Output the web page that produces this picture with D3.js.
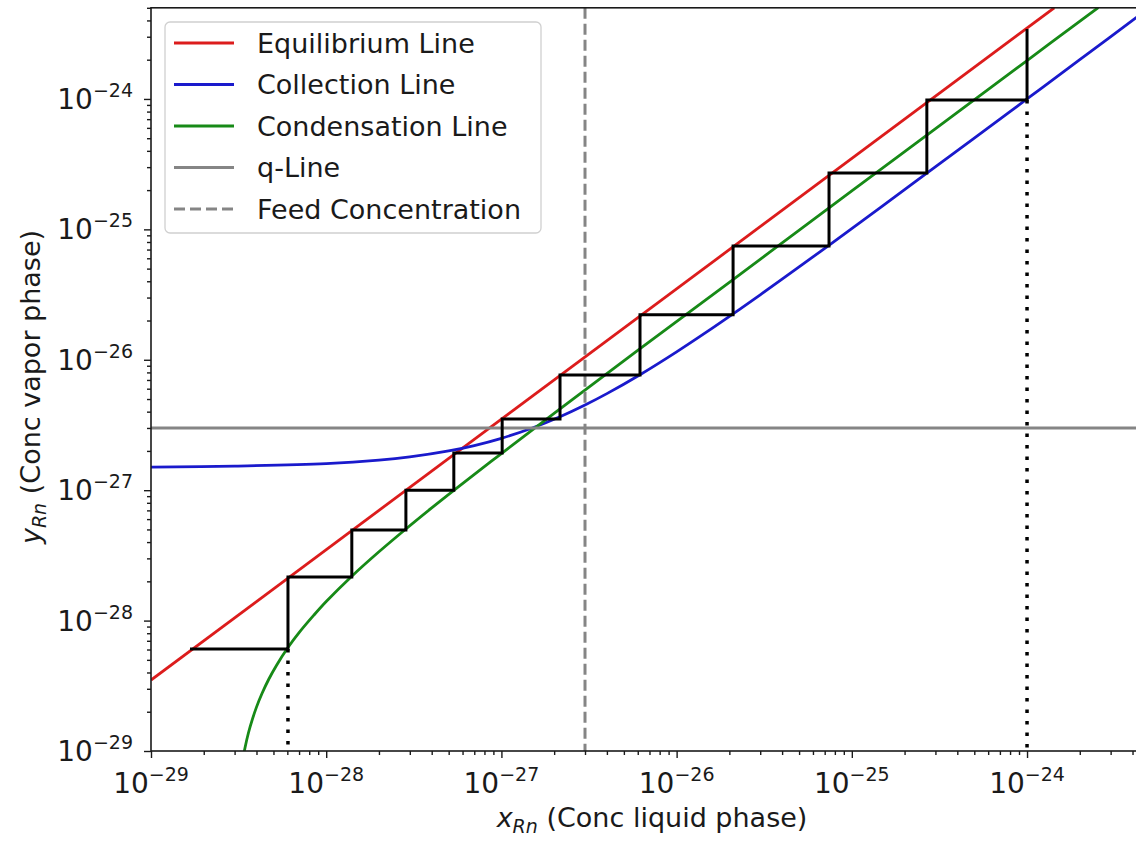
<!DOCTYPE html>
<html>
<head>
<meta charset="utf-8">
<script src="https://cdn.jsdelivr.net/npm/d3@7/dist/d3.min.js"></script>
<style>
  body { margin: 0; background: #fff; }
  text { font-family: "DejaVu Sans", sans-serif; fill: #1a1a1a; }
</style>
</head>
<body>
<div id="chart"></div>
<script>
/*---------- DATA ----------*/
// Equilibrium line (straight on log-log)
let eqX = [1e-29, 1.43e-24];
let eqY = [3.5e-29, 5e-24];

// Collection line
let collX = [1e-29, 3e-29, 1e-28, 2e-28, 3e-28, 5e-28, 7e-28, 1e-27, 1.5e-27, 2.16e-27, 3e-27, 4e-27, 6.18e-27, 1e-26, 1.5e-26, 2.1e-26, 3e-26, 5e-26, 7.4e-26, 1.5e-25, 2.68e-25, 5e-25, 1e-24, 2e-24, 5e-24];
let collY = [1.5e-27, 1.53e-27, 1.6e-27, 1.7e-27, 1.8e-27, 2.0e-27, 2.2e-27, 2.5e-27, 3.0e-27, 3.66e-27, 4.5e-27, 5.5e-27, 7.68e-27, 1.15e-26, 1.65e-26, 2.25e-26, 3.15e-26, 5.15e-26, 7.55e-26, 1.515e-25, 2.695e-25, 5.0e-25, 1.0e-24, 2.0e-24, 5.0e-24];

// Condensation line
let condX = [3.3e-29, 3.44e-29, 3.6e-29, 3.8e-29, 4e-29, 4.3e-29, 4.7e-29, 5.2e-29, 6.05e-29, 7e-29, 8.5e-29, 1e-28, 1.4e-28, 2e-28, 2.85e-28, 4e-28, 5.35e-28, 1e-27, 2.16e-27, 6e-27, 2e-26, 1e-25, 1e-24, 2.55e-24];
let condY = [7.9e-30, 1.06e-29, 1.38e-29, 1.77e-29, 2.17e-29, 2.76e-29, 3.55e-29, 4.53e-29, 6.21e-29, 8.08e-29, 1.10e-28, 1.40e-28, 2.19e-28, 3.37e-28, 5.04e-28, 7.31e-28, 9.97e-28, 1.91e-27, 4.20e-27, 1.18e-26, 3.93e-26, 1.97e-25, 1.97e-24, 5.02e-24];

// q-line and feed concentration
let qLineY = 3e-27;
let feedX = 3e-27;

// Stage steps: vertical at stageX[i] between stageY[i] and stageY[i+1]
let stageX = [1e-24, 2.68e-25, 7.41e-26, 2.10e-26, 6.18e-27, 2.16e-27, 1.01e-27, 5.35e-28, 2.85e-28, 1.40e-28, 6.05e-29, 1.67e-29];
let stageY = [3.44e-24, 9.8e-25, 2.71e-25, 7.47e-26, 2.21e-26, 7.63e-27, 3.52e-27, 1.93e-27, 1.0e-27, 4.96e-28, 2.16e-28, 6.05e-29];

// Dotted drop lines (x, top y)
let dropX = [6.05e-29, 1e-24];
let dropY = [6.05e-29, 9.8e-25];

// Axis ticks
let majorExp = [-29, -28, -27, -26, -25, -24];
let legendLabels = ["Equilibrium Line", "Collection Line", "Condensation Line", "q-Line", "Feed Concentration"];

/*---------- SETUP ----------*/
const width = 1136;
const height = 841;
const mLeft = 151, mRight = 1149.5, mTop = 7.8, mBottom = 751;

let svg = d3.select("#chart").append("svg")
  .attr("width", width)
  .attr("height", height)
  .style("display", "block");

svg.append("rect").attr("width", width).attr("height", height).attr("fill", "#fff");

let x = d3.scaleLog().domain([1e-29, 5e-24]).range([mLeft, mRight]);
let y = d3.scaleLog().domain([1e-29, 5e-24]).range([mBottom, mTop]);

svg.append("defs").append("clipPath").attr("id", "plot-clip")
  .append("rect")
  .attr("x", mLeft).attr("y", mTop)
  .attr("width", mRight - mLeft).attr("height", mBottom - mTop);

let plot = svg.append("g").attr("clip-path", "url(#plot-clip)");

let line = d3.line()
  .x((d) => x(d[0]))
  .y((d) => y(d[1]));

let smooth = d3.line()
  .x((d) => x(d[0]))
  .y((d) => y(d[1]))
  .curve(d3.curveCatmullRom.alpha(0.5));

let red = "#dc1c1c", blue = "#1a1acc", green = "#178a17", gray = "#858585";

// Equilibrium
plot.append("path")
  .datum(d3.zip(eqX, eqY))
  .attr("d", line)
  .attr("fill", "none").attr("stroke", red).attr("stroke-width", 2.8);

// Collection
plot.append("path")
  .datum(d3.zip(collX, collY))
  .attr("d", smooth)
  .attr("fill", "none").attr("stroke", blue).attr("stroke-width", 2.8);

// Condensation
plot.append("path")
  .datum(d3.zip(condX, condY))
  .attr("d", smooth)
  .attr("fill", "none").attr("stroke", green).attr("stroke-width", 2.8);

// q-Line
plot.append("line")
  .attr("x1", mLeft).attr("x2", mRight)
  .attr("y1", y(qLineY)).attr("y2", y(qLineY))
  .attr("stroke", gray).attr("stroke-width", 3);

// Feed concentration
plot.append("line")
  .attr("x1", x(feedX)).attr("x2", x(feedX))
  .attr("y1", mTop).attr("y2", mBottom)
  .attr("stroke", gray).attr("stroke-width", 3)
  .attr("stroke-dasharray", "11,5");

// Stairs
let stairPts = [];
stageX.forEach((sx, i) => {
  stairPts.push([sx, stageY[i]]);
  if (i + 1 < stageY.length) stairPts.push([sx, stageY[i + 1]]);
});
plot.append("path")
  .datum(stairPts)
  .attr("d", line)
  .attr("fill", "none").attr("stroke", "#000").attr("stroke-width", 3)
  .attr("stroke-linejoin", "miter");

// Dotted drop lines
plot.selectAll("line.drop")
  .data(d3.zip(dropX, dropY))
  .join("line")
  .attr("class", "drop")
  .attr("x1", (d) => x(d[0])).attr("x2", (d) => x(d[0]))
  .attr("y1", (d) => y(d[1])).attr("y2", mBottom)
  .attr("stroke", "#000").attr("stroke-width", 3.5)
  .attr("stroke-dasharray", "3.5,8");

/*---------- AXES ----------*/
let majors = majorExp.map((e) => Math.pow(10, e));
let minors = [];
for (let e = -29; e <= -24; e++) {
  for (let k = 2; k <= 9; k++) {
    let v = k * Math.pow(10, e);
    if (v <= 5e-24) minors.push(v);
  }
}

function styleAxis(g) {
  g.select(".domain").remove();
  g.selectAll("line").attr("stroke", "#1a1a1a").attr("stroke-width", 1.4);
  g.selectAll("text").remove();
}

svg.append("g").attr("transform", `translate(0,${mBottom})`)
  .call(d3.axisBottom(x).tickValues(majors).tickSize(7)).call(styleAxis);
svg.append("g").attr("transform", `translate(0,${mBottom})`)
  .call(d3.axisBottom(x).tickValues(minors).tickSize(4)).call(styleAxis);
svg.append("g").attr("transform", `translate(${mLeft},0)`)
  .call(d3.axisLeft(y).tickValues(majors).tickSize(7)).call(styleAxis);
svg.append("g").attr("transform", `translate(${mLeft},0)`)
  .call(d3.axisLeft(y).tickValues(minors).tickSize(4)).call(styleAxis);

// Spines (right spine lies outside the picture)
svg.append("rect")
  .attr("x", mLeft).attr("y", mTop)
  .attr("width", mRight - mLeft).attr("height", mBottom - mTop)
  .attr("fill", "none").attr("stroke", "#1a1a1a").attr("stroke-width", 1.6);

// Tick labels with superscript exponent
function powLabel(sel, e) {
  sel.append("tspan").text("10");
  sel.append("tspan")
    .attr("dy", -12)
    .attr("font-size", "19px")
    .text("\u2212" + Math.abs(e));
}

majorExp.forEach((e) => {
  let t = svg.append("text")
    .attr("x", x(Math.pow(10, e)))
    .attr("y", 793)
    .attr("text-anchor", "middle")
    .attr("font-size", "28px");
  powLabel(t, e);

  let u = svg.append("text")
    .attr("x", 133)
    .attr("y", y(Math.pow(10, e)) + 10)
    .attr("text-anchor", "end")
    .attr("font-size", "28px");
  powLabel(u, e);
});

// Axis labels
function axisLabel(sel, v, rest) {
  sel.append("tspan").attr("font-style", "italic").text(v);
  sel.append("tspan").attr("font-style", "italic").attr("font-size", "19px").attr("dy", 6).text("Rn");
  sel.append("tspan").attr("dy", -6).text(rest);
}

let xl = svg.append("text")
  .attr("x", 652).attr("y", 827)
  .attr("text-anchor", "middle")
  .attr("font-size", "27px");
axisLabel(xl, "x", " (Conc liquid phase)");

let yl = svg.append("text")
  .attr("transform", "translate(40,387) rotate(-90)")
  .attr("text-anchor", "middle")
  .attr("font-size", "27px");
axisLabel(yl, "y", " (Conc vapor phase)");

/*---------- LEGEND ----------*/
let legend = svg.append("g");
legend.append("rect")
  .attr("x", 165).attr("y", 22)
  .attr("width", 376).attr("height", 211)
  .attr("rx", 5)
  .attr("fill", "#fff").attr("fill-opacity", 0.85)
  .attr("stroke", "#d0d0d0").attr("stroke-width", 1.3);

let legendColors = [red, blue, green, gray, gray];
let legendDash = [null, null, null, null, "11,5"];

legend.selectAll("g.item")
  .data(legendLabels)
  .join((enter) => {
    let g = enter.append("g")
      .attr("class", "item")
      .attr("transform", (_, i) => `translate(0,${43 + i * 41.5})`);
    g.append("line")
      .attr("x1", 174).attr("x2", 234)
      .attr("stroke", (_, i) => legendColors[i])
      .attr("stroke-width", 3)
      .attr("stroke-dasharray", (_, i) => legendDash[i]);
    g.append("text")
      .attr("x", 257).attr("y", 9.5)
      .attr("font-size", "27px")
      .text((d) => d);
    return g;
  });
</script>
</body>
</html>
